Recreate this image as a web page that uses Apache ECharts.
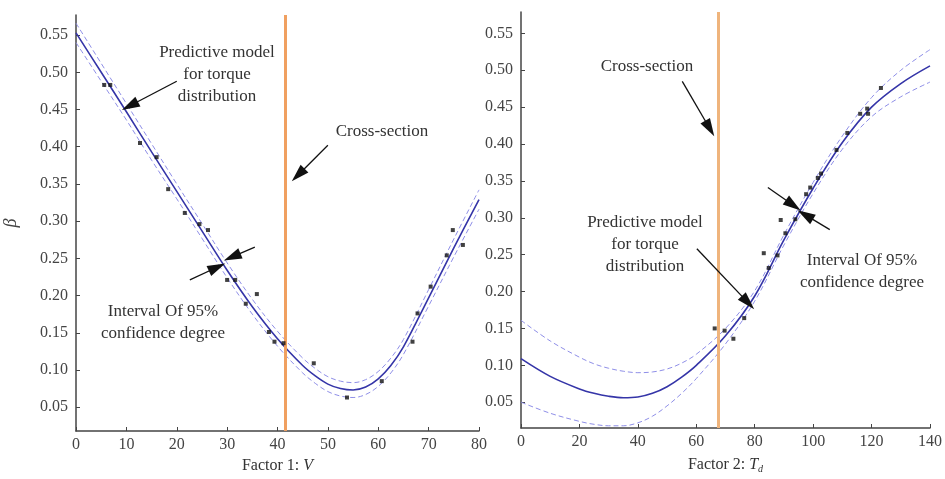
<!DOCTYPE html>
<html>
<head>
<meta charset="utf-8">
<script src="https://cdn.jsdelivr.net/npm/echarts@6/dist/echarts.min.js"></script>
<style>
  html, body { margin: 0; padding: 0; background: #fff; }
  #main { width: 945px; height: 479px; }
</style>
</head>
<body>
<div id="main"></div>
<script>
// ---- data ----
// Factor 1: V (left panel)
const xV = [0, 5, 10, 15, 20, 25, 30, 35, 40, 45, 47.5, 50, 52.5, 55, 57.5, 60, 62.5, 65, 70, 75, 80]
const modelV = [0.553, 0.500, 0.447, 0.393, 0.340, 0.287, 0.234, 0.185, 0.142, 0.106, 0.092, 0.081, 0.075, 0.073, 0.077, 0.088, 0.106, 0.131, 0.197, 0.264, 0.329]
const upperV = [0.566, 0.512, 0.458, 0.404, 0.350, 0.297, 0.244, 0.195, 0.152, 0.116, 0.102, 0.091, 0.085, 0.083, 0.087, 0.098, 0.116, 0.141, 0.208, 0.276, 0.342]
const lowerV = [0.540, 0.488, 0.436, 0.382, 0.330, 0.277, 0.224, 0.175, 0.132, 0.096, 0.082, 0.071, 0.065, 0.063, 0.067, 0.078, 0.096, 0.121, 0.186, 0.252, 0.316]
const pointsV = [
  [5.6, 0.483], [6.8, 0.483], [12.7, 0.405], [16.0, 0.386], [18.3, 0.343], [21.6, 0.311],
  [24.5, 0.296], [26.2, 0.288], [30.0, 0.221], [31.6, 0.221], [33.7, 0.189], [35.9, 0.202],
  [38.3, 0.151], [39.4, 0.138], [41.2, 0.136], [47.2, 0.109], [53.8, 0.063], [60.7, 0.085],
  [66.8, 0.138], [67.8, 0.176], [70.4, 0.212], [73.6, 0.254], [74.8, 0.288], [76.8, 0.268]
]
const sectionV = 41.5

// Factor 2: Td (right panel)
const xT = [0, 10, 20, 25, 30, 35, 40, 45, 50, 55, 60, 70, 80, 90, 100, 110, 120, 130, 140]
const modelT = [0.109, 0.085, 0.068, 0.062, 0.058, 0.056, 0.057, 0.062, 0.071, 0.084, 0.100, 0.140, 0.194, 0.270, 0.340, 0.402, 0.450, 0.482, 0.506]
const upperT = [0.161, 0.133, 0.111, 0.102, 0.096, 0.092, 0.090, 0.091, 0.095, 0.103, 0.115, 0.150, 0.201, 0.277, 0.348, 0.411, 0.463, 0.500, 0.528]
const lowerT = [0.050, 0.035, 0.024, 0.020, 0.018, 0.018, 0.022, 0.031, 0.045, 0.062, 0.082, 0.129, 0.187, 0.263, 0.333, 0.393, 0.437, 0.464, 0.484]
const pointsT = [
  [66.3, 0.150], [69.7, 0.147], [72.7, 0.136], [76.4, 0.164], [83.1, 0.252], [84.8, 0.232],
  [87.8, 0.249], [88.9, 0.297], [90.5, 0.279], [93.9, 0.298], [97.6, 0.332], [99.0, 0.341],
  [101.6, 0.354], [102.7, 0.360], [108.0, 0.392], [111.7, 0.415], [116.1, 0.441], [118.5, 0.448],
  [118.8, 0.441], [123.2, 0.476]
]
const sectionT = 67.5

const yTicks = [0.05, 0.10, 0.15, 0.20, 0.25, 0.30, 0.35, 0.40, 0.45, 0.50, 0.55]

// annotation arrows, [from, to] in data coords
const arrowsV = [
  [[20.0, 0.488], [10.7, 0.455]],
  [[50.0, 0.402], [44.1, 0.362]],
  [[22.6, 0.221], [28.0, 0.238]],
  [[35.5, 0.265], [31.0, 0.252]]
]
const arrowsT = [
  [[55.2, 0.485], [64.6, 0.421]],
  [[60.2, 0.258], [77.7, 0.185]],
  [[84.5, 0.341], [93.2, 0.317]],
  [[105.7, 0.284], [97.3, 0.304]]
]

const font = 'Liberation Serif'
const axisColor = '#444'
const headPath = 'path://M5,0 L10,16 L0,16 Z'

const zip = (xs, ys) => xs.map((x, i) => [x, ys[i]])

const makeX = (idx, max, interval, name) => ({
  type: 'value',
  gridIndex: idx,
  min: 0,
  max: max,
  interval: interval,
  name: name,
  nameLocation: 'middle',
  nameGap: 27,
  nameTextStyle: {
    fontFamily: font,
    fontSize: 16,
    color: '#333',
    rich: {
      n: { fontFamily: font, fontSize: 16, color: '#333' },
      i: { fontFamily: font, fontSize: 16, fontStyle: 'italic', color: '#333' },
      s: { fontFamily: font, fontSize: 10, fontStyle: 'italic', color: '#333', padding: [9, 0, 0, 0] }
    }
  },
  axisLine: { show: true, onZero: false, lineStyle: { color: axisColor, width: 1.5 } },
  axisTick: { show: true, inside: true, length: 4, lineStyle: { color: axisColor } },
  axisLabel: { fontFamily: font, fontSize: 16, color: '#444', margin: 6 },
  splitLine: { show: false }
})

const makeY = (idx, min, max, name) => ({
  type: 'value',
  gridIndex: idx,
  min: min,
  max: max,
  name: name,
  nameLocation: 'middle',
  nameGap: 56,
  nameRotate: 90,
  nameTextStyle: { fontFamily: font, fontSize: 18, fontStyle: 'italic', color: '#444' },
  axisLine: { show: true, onZero: false, lineStyle: { color: axisColor, width: 1.5 } },
  axisTick: { show: true, inside: true, length: 4, customValues: yTicks, lineStyle: { color: axisColor } },
  axisLabel: {
    fontFamily: font, fontSize: 16, color: '#444', margin: 8,
    customValues: yTicks,
    formatter: (v) => v.toFixed(2)
  },
  splitLine: { show: false }
})

const lineSeries = (idx, data, dashed) => ({
  type: 'line',
  xAxisIndex: idx,
  yAxisIndex: idx,
  data: data,
  smooth: 0.35,
  symbol: 'none',
  silent: true,
  z: dashed ? 3 : 4,
  lineStyle: dashed
    ? { color: '#8f8fe8', width: 1, type: [5, 3] }
    : { color: '#3535a8', width: 1.6 }
})

const arrowMarks = (list) => ({
  silent: true,
  symbol: ['none', 'triangle'],
  symbolSize: 12,
  label: { show: false },
  lineStyle: { color: '#111', width: 1.3, type: 'solid' },
  data: list.map(a => [
    { coord: a[0], symbol: 'none' },
    { coord: a[1], symbol: headPath, symbolSize: [11, 18] }
  ])
})

const scatterSeries = (idx, data, arrows) => ({
  type: 'scatter',
  xAxisIndex: idx,
  yAxisIndex: idx,
  data: data,
  symbol: 'rect',
  symbolSize: 4,
  itemStyle: { color: '#111' },
  z: 6,
  markLine: arrowMarks(arrows)
})

const sectionSeries = (idx, x, color) => ({
  type: 'line',
  xAxisIndex: idx,
  yAxisIndex: idx,
  data: [],
  z: 2,
  markLine: {
    silent: true,
    symbol: ['none', 'none'],
    label: { show: false },
    lineStyle: { color: color, width: 3, type: 'solid' },
    data: [{ xAxis: x }]
  }
})

const textStyle = { fontFamily: font, fontSize: 17, fill: '#333', textAlign: 'center', textVerticalAlign: 'middle' }
const note = (x, y, text) => ({ type: 'text', x: x, y: y, style: Object.assign({ text: text, lineHeight: 22 }, textStyle) })

const chart = echarts.init(document.getElementById('main'))
const option = {
  backgroundColor: '#fff',
  animation: false,
  grid: [
    { left: 76, top: 15, width: 403, height: 421 },
    { left: 521, top: 12, width: 416, height: 422 }
  ],
  xAxis: [
    makeX(0, 80, 10, '{n|Factor 1: }{i|V}'),
    makeX(1, 140, 20, '{n|Factor 2: }{i|T}{s|d}')
  ],
  yAxis: [
    makeY(0, 0.018, 0.577, 'β'),
    makeY(1, 0.015, 0.579, '')
  ],
  series: [
    sectionSeries(0, sectionV, '#f0a060'),
    lineSeries(0, zip(xV, upperV), true),
    lineSeries(0, zip(xV, lowerV), true),
    lineSeries(0, zip(xV, modelV), false),
    scatterSeries(0, pointsV, arrowsV),
    sectionSeries(1, sectionT, '#efb47c'),
    lineSeries(1, zip(xT, upperT), true),
    lineSeries(1, zip(xT, lowerT), true),
    lineSeries(1, zip(xT, modelT), false),
    scatterSeries(1, pointsT, arrowsT)
  ],
  graphic: [
    note(217, 75, 'Predictive model\nfor torque\ndistribution'),
    note(382, 132, 'Cross-section'),
    note(163, 323, 'Interval Of 95%\nconfidence degree'),
    note(647, 67, 'Cross-section'),
    note(645, 245, 'Predictive model\nfor torque\ndistribution'),
    note(862, 272, 'Interval Of 95%\nconfidence degree')
  ]
}
chart.setOption(option)
</script>
</body>
</html>
